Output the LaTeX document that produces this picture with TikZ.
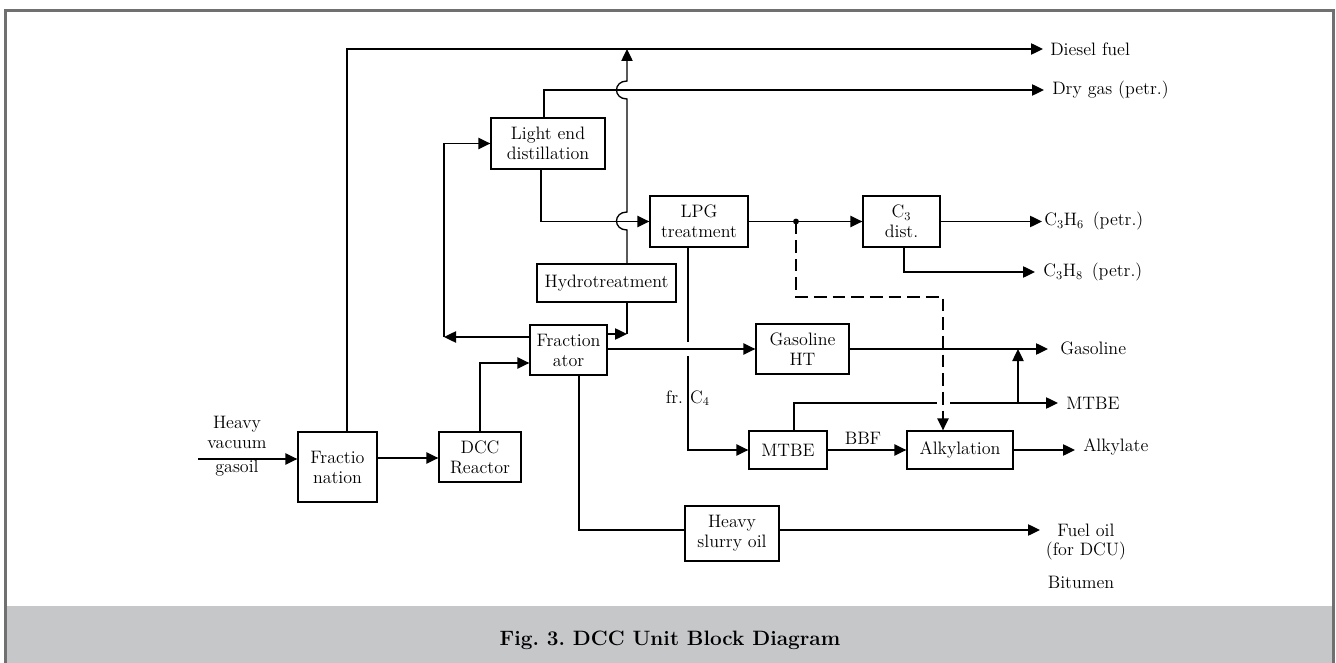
\documentclass[tikz,border=0pt]{standalone}
\usetikzlibrary{arrows.meta}
\definecolor{framegray}{HTML}{707070}
\definecolor{bandgray}{HTML}{C6C7C9}
\begin{document}
\begin{tikzpicture}[x=0.75pt,y=-0.75pt,
  every node/.style={font=\fontsize{13.5}{15}\selectfont},
  ln/.style={line width=1pt},
  arr/.style={line width=1pt,-{Triangle[length=9pt,width=8.5pt]}},
  unit/.style 2 args={draw, line width=1pt, align=center, inner sep=0pt,
    minimum width=#1*0.75pt, minimum height=#2*0.75pt},
  lbl/.style={inner sep=0pt, align=center},
  outlbl/.style={inner sep=0pt, anchor=west},
  dsh/.style={dash pattern=on 9.5pt off 4.5pt},
]
\useasboundingbox (0,0) rectangle (1336,663);

% frame and caption band
\fill[bandgray] (6,606) rectangle (1333,663);
\draw[framegray, line width=2pt] (5.3,663) -- (5.3,10.5) -- (1333.7,10.5) -- (1333.7,663);
\node[font=\fontsize{15.6}{18}\selectfont\bfseries, anchor=base] (cap) at (670,645)
  {Fig.\ 3.\ DCC Unit Block Diagram};

% process units
\node[unit={79}{70}]  (fn)  at (337.5,467) {Fractio\\nation};
\node[unit={82}{50}]  (dcc) at (480,457)   {DCC\\Reactor};
\node[unit={77}{50}]  (fra) at (568.5,350) {Fraction\\ator};
\node[unit={139}{38}] (hyd) at (606.5,283) {Hydrotreatment};
\node[unit={114}{51}] (led) at (548,143.5) {Light end\\distillation};
\node[unit={98}{51}]  (lpg) at (699,221.5) {LPG\\treatment};
\node[unit={77}{51}]  (c3d) at (901.5,221.5) {C$_3$\\dist.};
\node[unit={93}{50}]  (ght) at (802.5,349) {Gasoline\\HT};
\node[unit={78}{38}]  (mtb) at (788,450)   {MTBE};
\node[unit={106}{38}] (alk) at (960,450)   {Alkylation};
\node[unit={94}{55}]  (hso) at (732,533.5) {Heavy\\slurry oil};

% stream labels
\node[lbl] (hvy) at (237,432) {Heavy\\vacuum};
\node[lbl] (gso) at (237,468) {gasoil};
\node[outlbl] (dsl) at (1050,49)  {Diesel fuel};
\node[outlbl] (dry) at (1052,90)  {Dry gas (petr.)};
\node[outlbl] (c6l) at (1044,221) {C$_3$H$_6$\enspace(petr.)};
\node[outlbl] (c8l) at (1043,272) {C$_3$H$_8$\enspace(petr.)};
\node[outlbl] (gsl) at (1060,348) {Gasoline};
\node[outlbl] (mtl) at (1066,403) {MTBE};
\node[outlbl] (akl) at (1083,447) {Alkylate};
\node[lbl] (fo1) at (1086,530) {Fuel oil};
\node[lbl] (fo2) at (1086,551) {(for DCU)};
\node[lbl] (btm) at (1081,582) {Bitumen};
\node[lbl, anchor=base] (frl) at (674.5,403) {fr.};
\node[lbl, anchor=base] (c4l) at (700,403) {C$_4$};
\node[lbl] (bbf) at (863,438) {BBF};

% stream ends and junctions
\coordinate (feed)  at (198,459);
\coordinate (tDsl)  at (1043,49);
\coordinate (tDry)  at (1044,90);
\coordinate (tC6)   at (1042,221.5);
\coordinate (tC8)   at (1035,272);
\coordinate (tGas)  at (1048,349);
\coordinate (tMtbe) at (1058,403);
\coordinate (tAlk)  at (1075,450);
\coordinate (tFuel) at (1040,530);
\coordinate (hjtop) at (627,49);
\coordinate (hj)    at (627,334);
\coordinate (lc)    at (444,337);
\coordinate (dot)   at (796,221.5);
\coordinate (mj)    at (1018,403);

% feed and first fractionation
\draw[arr] (feed) -- (feed -| fn.west);
\draw[arr] (fn.east |- 0,458) -- (dcc.west |- 0,458);
\draw[arr] (347,0 |- fn.north) |- (tDsl);
\draw[arr] (dcc.north) |- (fra.west |- 0,363);

% fractionator overheads and recycle
\draw[arr] (fra.west |- lc) -- (lc);
\draw[arr] (lc) |- (led.west);
\draw[arr] (544,0 |- led.north) |- (tDry);
\draw[arr] (541,0 |- led.south) |- (lpg.west);

% hydrotreated cut to diesel, hopping over two lines
\draw[arr] (fra.east |- hj) -- (hj);
\draw[ln] (hj) -- (hj |- hyd.south);
\draw[arr] (hj |- hyd.north) -- (627,230)
  .. controls (613,230) and (613,212) .. (627,212) -- (627,99)
  .. controls (613,99) and (613,81) .. (627,81) -- (hjtop);

% LPG and C3 split
\draw[arr] (lpg.east) -- (c3d.west);
\fill (dot) circle[radius=2.2pt];
\draw[arr] (c3d.east) -- (tC6);
\draw[arr] (904,0 |- c3d.south) |- (tC8);
\draw[arr, dsh] (dot) |- (943,297) -- (943,0 |- alk.north);

% gasoline and C4 chain
\draw[arr] (fra.east |- ght.west) -- (ght.west);
\draw[arr] (ght.east) -- (tGas);
\draw[ln] (688,0 |- lpg.south) -- (688,342);
\draw[arr] (688,356) |- (mtb.west);
\draw[arr] (mtb.east) -- (alk.west);
\draw[arr] (alk.east) -- (tAlk);
\draw[ln] (794,0 |- mtb.north) |- (937,403);
\draw[arr] (950,403) -- (tMtbe);
\draw[arr] (mj) -- (mj |- tGas);

% bottoms
\draw[ln] (579,0 |- fra.south) |- (hso.west |- 0,530);
\draw[arr] (hso.east |- 0,530) -- (tFuel);
\end{tikzpicture}
\end{document}
